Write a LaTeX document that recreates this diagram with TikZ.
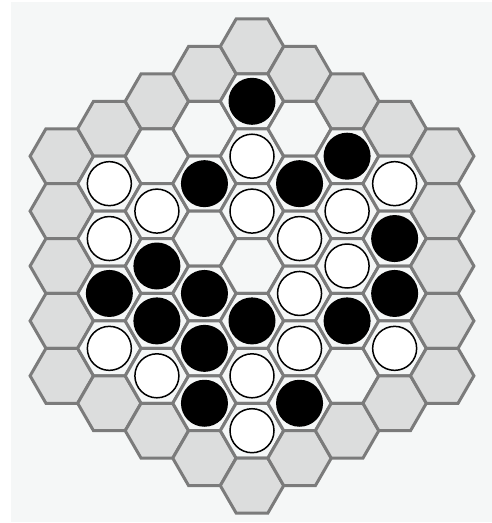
\documentclass[tikz,border=0pt]{standalone}
\usepackage{xcolor}
\definecolor{boardbg}{HTML}{F5F7F7}
\definecolor{ringgray}{HTML}{DCDDDD}
\definecolor{cellline}{HTML}{7B7B7B}
\begin{document}
\begin{tikzpicture}[x=1pt, y=-1pt,
        cell/.style={draw=cellline, line width=3pt},
        inner cell/.style={cell, fill=boardbg},
        ring cell/.style={cell, fill=ringgray},
        black stone/.style={circle, fill=black, minimum size=47pt, inner sep=0pt},
        white stone/.style={circle, draw=black, line width=1.5pt, fill=white, minimum size=44pt, inner sep=0pt}
    ]

    % Page and board background
    \fill[white] (0,0) rectangle (492,523);
    \useasboundingbox (0,0) rectangle (492,523);
    \fill[boardbg] (11,2) rectangle (492,522);

    % Hex cells (columns q, half-rows m)
    \foreach \q in {-4,...,4} {
        \pgfmathtruncatemacro\mmax{8-abs(\q)}
        \pgfmathtruncatemacro\mmin{-\mmax}
        \pgfmathtruncatemacro\mnext{\mmin+2}
        \foreach \m in {\mmin,\mnext,...,\mmax} {
            \pgfmathtruncatemacro\inside{(abs(\q)<4) && (abs(\m)<=6-abs(\q))}
            \ifnum\inside=1 \def\kind{inner cell}\else \def\kind{ring cell}\fi
            \draw[\kind] ({252+47.55*\q},{266+27.45*\m})
                +(0:31.7) -- +(60:31.7) -- +(120:31.7) -- +(180:31.7)
                -- +(240:31.7) -- +(300:31.7) -- cycle;
        }
    }

    % Stones
    \foreach \q/\m/\c in {0/-6/black, 0/-4/white, 0/-2/white, 0/2/black, 0/4/white, 0/6/white,
            1/-3/black, 1/-1/white, 1/1/white, 1/3/white, 1/5/black,
            -1/-3/black, -1/1/black, -1/3/black, -1/5/black,
            2/-4/black, 2/-2/white, 2/0/white, 2/2/black,
            -2/-2/white, -2/0/black, -2/2/black, -2/4/white,
            3/-3/white, 3/-1/black, 3/1/black, 3/3/white,
            -3/-3/white, -3/-1/white, -3/1/black, -3/3/white} {
        \node[\c\space stone] (st\q\m) at ({252+47.55*\q},{266+27.45*\m}) {};
    }

\end{tikzpicture}
\end{document}
